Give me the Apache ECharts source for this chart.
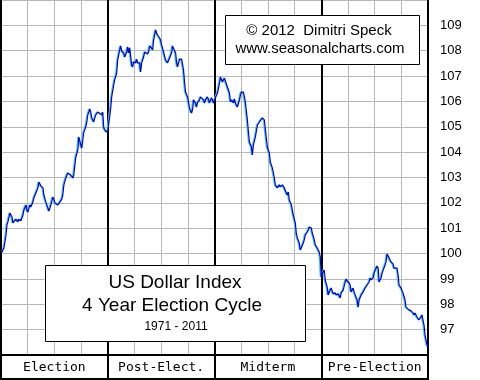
<!DOCTYPE html>
<html><head><meta charset="utf-8">
<script src="https://cdn.jsdelivr.net/npm/echarts@6/dist/echarts.min.js"></script>
<style>html,body{margin:0;padding:0;background:#fff}#c{width:480px;height:380px}</style>
</head><body><div id="c"></div>
<script>
// position within the 4-year cycle (years)
const cycleYears = [
0,0.028,0.047,0.056,0.065,0.075,0.084,0.103,0.112,0.121,0.140,0.159,0.168,0.187,0.206,0.215,0.234,0.243,0.252,0.271,0.280,0.299,0.308,0.327,0.346,0.355,0.374,0.393,0.402,0.421,0.439,0.449,0.467,0.486,0.495,0.505,0.523,0.533,0.551,0.570,0.579,0.589,0.607,0.626,0.636,0.654,0.673,0.682,0.692,0.701,0.720,0.729,0.738,0.748,0.757,0.766,0.776,0.794,0.804,0.813,0.832,0.841,0.850,0.869,0.879,0.888,0.907,0.925,0.944,0.953,0.963,0.981,1.000,1.009,1.019,
1.028,1.037,1.056,1.065,1.084,1.093,1.112,1.121,1.131,1.150,1.159,1.178,1.187,1.196,1.206,1.224,1.234,1.243,1.262,1.271,1.280,1.299,1.308,1.318,1.336,1.346,1.355,1.374,1.383,1.393,1.411,1.421,1.430,1.449,1.458,1.467,1.486,1.495,1.505,1.523,1.533,1.542,1.561,1.570,1.579,1.598,1.607,1.617,1.636,1.645,1.654,1.673,1.682,1.692,1.701,1.710,1.720,1.729,1.748,1.757,1.766,1.785,1.794,1.804,1.822,1.832,1.841,1.860,1.869,1.879,1.897,1.907,1.916,1.935,1.944,1.953,1.972,1.981,1.991,2.009,
2.028,2.047,2.056,2.075,2.093,2.103,2.121,2.140,2.150,2.159,2.178,2.187,2.196,2.215,2.234,2.243,2.252,2.271,2.280,2.290,2.308,2.318,2.327,2.346,2.355,2.364,2.383,2.393,2.402,2.421,2.430,2.449,2.467,2.477,2.495,2.514,2.523,2.542,2.561,2.570,2.589,2.607,2.617,2.636,2.654,2.664,2.682,2.692,2.701,2.720,2.729,2.738,2.757,2.766,2.776,2.794,2.804,2.813,2.832,2.841,2.850,2.869,2.879,2.888,2.907,2.916,2.935,2.944,2.963,2.981,2.991,3.000,
3.009,3.019,3.028,3.037,3.056,3.065,3.084,3.093,3.112,3.131,3.140,3.159,3.178,3.187,3.206,3.224,3.234,3.243,3.262,3.271,3.280,3.299,3.308,3.318,3.336,3.346,3.355,3.374,3.383,3.393,3.411,3.421,3.430,3.449,3.458,3.467,3.486,3.495,3.505,3.523,3.533,3.542,3.561,3.570,3.579,3.598,3.607,3.617,3.636,3.645,3.654,3.673,3.682,3.692,3.710,3.720,3.729,3.748,3.757,3.766,3.785,3.794,3.804,3.822,3.841,3.860,3.869,3.879,3.897,3.907,3.916,3.935,3.944,3.953,3.963,3.972,3.991,4.000
];
// US Dollar Index, average seasonal pattern
const dollarIndex = [
99.98,100.22,100.73,101.13,101.25,101.21,101.60,101.44,101.21,101.21,101.36,101.25,101.36,101.29,101.52,101.72,101.92,101.72,101.64,101.92,101.84,102.03,102.19,102.39,102.59,102.82,102.67,102.59,102.31,102.03,101.80,101.68,101.92,102.23,102.15,102.00,102.00,101.92,102.03,102.15,102.31,102.71,102.98,103.18,103.14,103.10,102.98,103.10,103.49,103.81,104.09,104.60,104.56,104.28,104.16,104.48,104.79,104.99,105.19,105.47,105.70,105.58,105.35,105.19,105.35,105.47,105.58,105.62,105.47,105.58,104.95,104.83,104.79,105.11,105.43,
105.74,106.18,106.65,106.85,107.12,107.63,108.03,108.19,107.99,107.91,107.75,107.95,108.15,107.91,108.11,107.44,107.36,107.56,107.52,107.67,107.52,107.52,107.16,107.52,107.75,107.95,107.91,107.87,107.95,108.19,108.11,108.03,108.42,108.82,108.70,108.62,108.50,108.42,108.23,107.95,107.91,107.63,107.52,107.56,107.71,107.91,108.19,108.23,107.91,107.52,107.36,107.67,107.71,107.67,107.71,107.24,106.73,106.37,106.18,105.98,105.74,105.54,105.66,106.06,105.94,105.78,105.94,106.06,106.18,106.21,106.06,105.94,106.06,106.18,106.06,105.94,106.14,106.06,105.94,106.14,
106.33,106.73,106.96,106.77,106.92,106.96,106.57,106.33,105.98,106.06,105.94,106.10,105.94,105.78,106.06,106.25,106.37,106.37,106.18,105.94,105.27,104.79,104.40,104.20,103.89,104.28,104.60,104.56,105.07,105.19,105.19,105.35,105.27,104.87,104.20,103.97,103.61,103.38,102.98,102.71,102.59,102.71,102.63,102.71,102.59,102.63,102.31,102.43,102.11,101.92,101.72,101.52,101.21,100.81,100.62,100.42,100.14,100.22,100.42,100.54,100.73,100.85,100.93,101.05,101.01,100.81,100.54,100.34,100.22,100.06,99.87,99.08,
99.23,99.27,99.35,98.96,98.68,98.37,98.56,98.64,98.41,98.45,98.37,98.41,98.25,98.45,98.56,98.88,99.00,98.92,98.84,98.76,98.49,98.64,98.49,98.37,98.17,97.89,98.17,98.37,98.33,98.49,98.64,98.68,98.76,98.88,99.04,98.96,99.04,99.23,99.27,99.51,99.43,98.88,99.04,99.23,99.27,99.55,99.67,99.98,99.83,99.75,99.67,99.59,99.43,99.43,99.43,99.16,98.76,98.64,98.64,98.45,98.17,97.89,97.82,97.78,97.74,97.66,97.58,97.66,97.50,97.46,97.38,97.50,97.58,97.38,97.18,96.79,96.40,96.32
];
const phases = ['Election', 'Post-Elect.', 'Midterm', 'Pre-Election'];
const titleLines = ['US Dollar Index', '4 Year Election Cycle', '1971 - 2011'];
const creditLines = ['\u00a9 2012  Dimitri Speck', 'www.seasonalcharts.com'];

const chart = echarts.init(document.getElementById('c'), null, {renderer: 'canvas'});
const seriesData = cycleYears.map((t, i) => [t, dollarIndex[i]]);
const GRID = {left: 1, top: 0, width: 427, height: 355};
chart.setOption({
  animation: false,
  backgroundColor: '#ffffff',
  grid: GRID,
  xAxis: [{
    type: 'value', min: 0, max: 4, interval: 0.25,
    axisLine: {show: false}, axisTick: {show: false}, axisLabel: {show: false},
    splitLine: {show: true, lineStyle: {color: '#b8b8b8', width: 1}}
  }, {
    type: 'category', data: phases, boundaryGap: true, position: 'bottom',
    axisLine: {show: true, lineStyle: {color: '#000', width: 2}},
    axisTick: {show: true, interval: 0, length: 25, lineStyle: {color: '#000', width: 2}},
    splitLine: {show: true, interval: 0, lineStyle: {color: '#000', width: 2}},
    axisLabel: {show: true, interval: 0, margin: 6, color: '#000', fontFamily: 'DejaVu Sans Mono', fontSize: 13}
  }],
  yAxis: {
    type: 'value', position: 'right', min: 96, max: 110, interval: 1,
    axisLine: {show: true, lineStyle: {color: '#000', width: 2}},
    axisTick: {show: false},
    axisLabel: {show: true, margin: 12, color: '#000', fontFamily: 'Liberation Sans', fontSize: 13,
      showMinLabel: false, showMaxLabel: false},
    splitLine: {show: true, lineStyle: {color: '#b8b8b8', width: 1}}
  },
  series: [{
    type: 'line', xAxisIndex: 0, data: seriesData, showSymbol: false, symbol: 'none',
    lineStyle: {color: '#0000c8', width: 1.2, shadowColor: '#40c8ff', shadowBlur: 0, shadowOffsetX: -1, shadowOffsetY: 0},
    z: 5
  }],
  graphic: [
    {type: 'line', shape: {x1: 0.5, y1: 0, x2: 0.5, y2: 380}, style: {stroke: '#000', lineWidth: 2}, z: 10},
    {type: 'line', shape: {x1: 0, y1: 379, x2: 429, y2: 379}, style: {stroke: '#000', lineWidth: 2}, z: 10},
    {type: 'line', shape: {x1: 428, y1: 350, x2: 428, y2: 380}, style: {stroke: '#000', lineWidth: 2}, z: 10},
    {type: 'rect', shape: {x: 45.5, y: 265.5, width: 260, height: 76}, style: {fill: '#fff', stroke: '#000', lineWidth: 1}, z: 20},
    {type: 'text', x: 175, y: 283, style: {text: titleLines[0], font: '19px "Liberation Sans"', fill: '#000', align: 'center', verticalAlign: 'middle'}, z: 21},
    {type: 'text', x: 172, y: 306, style: {text: titleLines[1], font: '19px "Liberation Sans"', fill: '#000', align: 'center', verticalAlign: 'middle'}, z: 21},
    {type: 'text', x: 176, y: 327, style: {text: titleLines[2], font: '12px "Liberation Sans"', fill: '#000', align: 'center', verticalAlign: 'middle'}, z: 21},
    {type: 'rect', shape: {x: 225.5, y: 15.5, width: 194, height: 49}, style: {fill: '#fff', stroke: '#000', lineWidth: 1}, z: 20},
    {type: 'text', x: 319, y: 31, style: {text: creditLines[0], font: '15px "Liberation Sans"', fill: '#000', align: 'center', verticalAlign: 'middle'}, z: 21},
    {type: 'text', x: 320, y: 49, style: {text: creditLines[1], font: '15px "Liberation Sans"', fill: '#000', align: 'center', verticalAlign: 'middle'}, z: 21}
  ]
});
</script></body></html>
